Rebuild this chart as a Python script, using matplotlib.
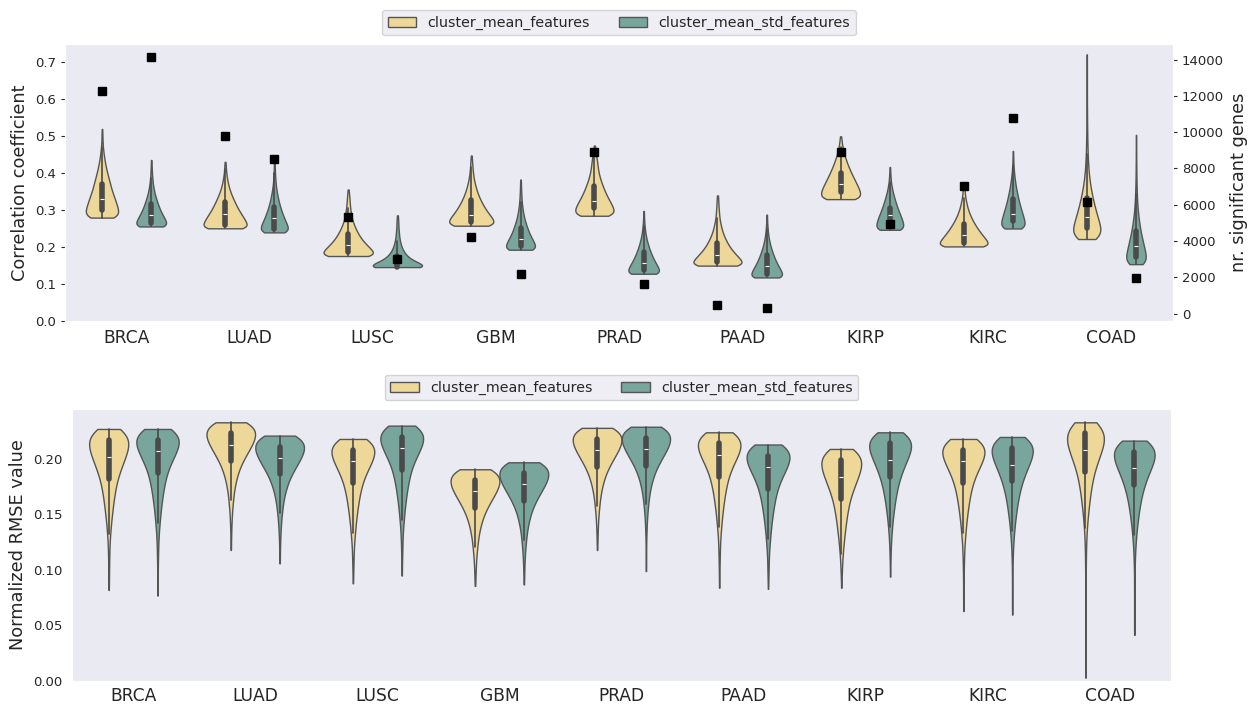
import numpy as np
import pandas as pd
import matplotlib
matplotlib.use("Agg")
import matplotlib.pyplot as plt
import seaborn as sns

# ---------------- data ----------------
cancers = ["BRCA", "LUAD", "LUSC", "GBM", "PRAD", "PAAD", "KIRP", "KIRC", "COAD"]
features = ["cluster_mean_features", "cluster_mean_std_features"]
colors = ["#EDD89A", "#78A69C"]

# Correlation coefficients: histogram counts in 0.01 bins going up from each minimum
corr_step = 0.01
corr_mean_min = [0.280, 0.251, 0.176, 0.258, 0.285, 0.150, 0.330, 0.202, 0.222]
corr_mean_counts = [
    [95, 100, 100, 92, 85, 78, 70, 62, 55, 50, 44, 38, 32, 27, 22, 18, 14, 11, 8, 6, 4, 3, 3, 2, 2],
    [100, 95, 88, 78, 68, 58, 50, 42, 35, 28, 22, 17, 13, 10, 7, 5, 4, 3, 2],
    [100, 92, 80, 66, 54, 44, 36, 29, 23, 18, 14, 11, 9, 7, 6, 5, 4, 3, 2],
    [98, 100, 90, 78, 66, 56, 47, 39, 32, 26, 21, 17, 13, 10, 8, 6, 5, 4, 3, 2],
    [92, 100, 95, 86, 76, 66, 57, 49, 42, 35, 29, 24, 20, 17, 15, 13, 10, 7, 5, 3],
    [100, 92, 80, 67, 55, 45, 37, 30, 24, 19, 15, 12, 9, 7, 6, 5, 4, 3, 3, 2],
    [90, 100, 97, 90, 81, 72, 63, 54, 46, 38, 31, 25, 19, 14, 10, 7, 5, 3],
    [100, 95, 85, 73, 62, 52, 43, 35, 28, 22, 17, 13, 10, 7, 5, 4, 3],
    [80, 95, 95, 90, 84, 77, 70, 63, 56, 50, 44, 39, 34, 29, 25, 21, 18, 15, 13, 11, 9, 8, 7, 6, 5,
     5, 4, 4, 3, 3, 3, 2, 2, 2, 2, 2, 1, 1, 1, 1, 1, 1, 1, 1, 1, 1, 1, 1, 1, 1, 1],
]
corr_std_min = [0.256, 0.240, 0.146, 0.193, 0.128, 0.118, 0.247, 0.2505, 0.154]
corr_std_counts = [
    [100, 95, 85, 72, 60, 50, 42, 34, 27, 21, 16, 12, 9, 7, 5, 4, 3, 2, 2],
    [95, 100, 90, 78, 67, 57, 48, 40, 33, 27, 22, 17, 13, 10, 8, 6, 5, 4, 3, 3, 2],
    [100, 70, 45, 30, 21, 15, 11, 8, 6, 5, 4, 3, 3, 2, 2],
    [100, 95, 85, 72, 60, 50, 42, 34, 27, 21, 17, 13, 10, 8, 6, 5, 4, 3, 3, 2],
    [100, 95, 85, 72, 60, 50, 41, 33, 26, 20, 15, 11, 8, 6, 4, 3, 2, 2],
    [100, 95, 85, 72, 60, 50, 41, 33, 26, 20, 15, 11, 8, 6, 4, 3, 2, 2],
    [92, 100, 95, 86, 76, 65, 55, 46, 38, 30, 23, 17, 12, 8, 6, 4, 3, 2],
    [90, 100, 95, 87, 78, 69, 60, 52, 45, 38, 32, 26, 21, 17, 13, 10, 7, 5, 4, 3, 2, 2],
    [88, 100, 97, 90, 82, 74, 66, 58, 50, 43, 37, 32, 27, 23, 19, 16, 13, 11, 9, 8, 7, 6, 5, 4, 4,
     3, 3, 3, 2, 2, 2, 2, 2, 1, 1, 1],
]

# number of significant genes (right axis)
genes_mean = [12250, 9770, 5300, 4240, 8930, 460, 8930, 7010, 6130]
genes_std = [14170, 8520, 3010, 2200, 1630, 280, 4940, 10800, 1980]

# Normalized RMSE: histogram counts in 0.005 bins going down from each maximum
rmse_step = 0.005
rmse_mean_max = [0.227, 0.233, 0.218, 0.1907, 0.228, 0.224, 0.209, 0.218, 0.233]
rmse_mean_counts = [
    [70, 90, 100, 97, 90, 80, 70, 60, 50, 42, 36, 31, 27, 23, 20, 17, 14, 11, 9, 7, 5, 4, 3, 3, 2, 2, 2, 1, 1, 1],
    [78, 96, 100, 95, 84, 72, 59, 47, 37, 29, 23, 18, 14, 11, 9, 7, 5, 4, 3, 2, 2, 1, 1, 1],
    [78, 96, 100, 95, 84, 72, 60, 49, 41, 35, 30, 26, 22, 19, 16, 13, 11, 9, 7, 5, 4, 3, 3, 2, 2, 1, 1],
    [78, 96, 100, 95, 84, 72, 59, 47, 37, 29, 23, 18, 14, 11, 9, 7, 5, 4, 3, 2, 2, 1],
    [78, 96, 100, 95, 84, 72, 59, 47, 37, 29, 23, 18, 14, 11, 9, 7, 5, 4, 3, 2, 2, 1, 1],
    [78, 96, 100, 95, 84, 72, 60, 49, 41, 35, 30, 26, 22, 19, 16, 13, 11, 9, 7, 5, 4, 3, 3, 2, 2, 1, 1, 1, 1],
    [70, 90, 100, 97, 90, 80, 70, 60, 50, 42, 36, 31, 27, 23, 20, 17, 14, 11, 9, 7, 5, 4, 3, 2, 1, 1],
    [78, 96, 100, 95, 84, 72, 60, 49, 41, 35, 30, 26, 22, 19, 16, 13, 11, 9, 7, 5, 4, 3, 3, 2, 2,
     1, 1, 1, 1, 1, 1, 1],
    [70, 90, 100, 97, 90, 80, 70, 60, 50, 42, 36, 31, 27, 23, 20, 17, 14, 11, 9, 7, 5, 4, 3, 3, 2, 2, 2,
     1, 1, 1, 1, 1, 1, 1, 1, 1, 1, 1, 1, 1, 1, 1, 1, 1, 1, 1, 1],
]
rmse_std_max = [0.227, 0.221, 0.230, 0.197, 0.229, 0.213, 0.224, 0.2198, 0.2165]
rmse_std_counts = [
    [78, 96, 100, 95, 84, 72, 60, 49, 41, 35, 30, 26, 22, 19, 16, 13, 11, 9, 7, 5, 4, 3, 3, 2, 2,
     1, 1, 1, 1, 1, 1],
    [78, 96, 100, 95, 84, 72, 59, 47, 37, 29, 23, 18, 14, 11, 9, 7, 5, 4, 3, 2, 2, 1, 1, 1],
    [78, 96, 100, 95, 84, 72, 60, 49, 41, 35, 30, 26, 22, 19, 16, 13, 11, 9, 7, 5, 4, 3, 3, 2, 2, 1, 1, 1],
    [78, 96, 100, 95, 84, 72, 59, 47, 37, 29, 23, 18, 14, 11, 9, 7, 5, 4, 3, 2, 2, 1, 1],
    [78, 96, 100, 95, 84, 72, 59, 47, 37, 29, 23, 18, 14, 11, 9, 7, 5, 4, 3, 2, 2, 1, 1, 1, 1, 1, 1],
    [78, 96, 100, 95, 84, 72, 60, 49, 41, 35, 30, 26, 22, 19, 16, 13, 11, 9, 7, 5, 4, 3, 3, 2, 2, 1, 1],
    [74, 93, 100, 96, 87, 76, 65, 55, 46, 39, 33, 28, 24, 20, 17, 14, 11, 9, 7, 5, 4, 3, 2, 2, 1, 1, 1],
    [74, 93, 100, 96, 87, 76, 65, 55, 46, 39, 33, 28, 24, 20, 17, 14, 11, 9, 7, 5, 4, 3, 2, 2, 1, 1, 1,
     1, 1, 1, 1, 1, 1],
    [74, 93, 100, 96, 87, 76, 65, 55, 46, 39, 33, 28, 24, 20, 17, 14, 11, 9, 7, 5, 4, 3, 2, 2, 1, 1, 1,
     1, 1, 1, 1, 1, 1, 1, 1, 1],
]


def long_frame(anchors, counts_list, step, direction, feature):
    rows = []
    for cancer, anchor, counts in zip(cancers, anchors, counts_list):
        vals = anchor + direction * step * np.arange(len(counts))
        rows.append(pd.DataFrame({"cancer": cancer, "feature": feature,
                                  "value": np.repeat(vals, counts)}))
    return pd.concat(rows, ignore_index=True)


df_corr = pd.concat([
    long_frame(corr_mean_min, corr_mean_counts, corr_step, +1, features[0]),
    long_frame(corr_std_min, corr_std_counts, corr_step, +1, features[1]),
], ignore_index=True)
df_rmse = pd.concat([
    long_frame(rmse_mean_max, rmse_mean_counts, rmse_step, -1, features[0]),
    long_frame(rmse_std_max, rmse_std_counts, rmse_step, -1, features[1]),
], ignore_index=True)

# ---------------- style ----------------
sns.set_style("dark")
plt.rcParams["font.family"] = ["DejaVu Sans"]

fig = plt.figure(figsize=(12.51, 7.06), dpi=100)
ax1 = fig.add_axes([0.052, 0.5453, 0.8856, 0.3924])
ax3 = fig.add_axes([0.0576, 0.0354, 0.8784, 0.3853])

vkw = dict(x="cancer", y="value", hue="feature", order=cancers, hue_order=features,
           palette=colors, saturation=1, cut=0, density_norm="area", inner="box",
           linewidth=1, linecolor="#555555",
           inner_kws=dict(box_width=4, whis_width=1.2, color="#4a4a4a"))

sns.violinplot(data=df_corr, ax=ax1, bw_adjust=0.8, **vkw)
sns.violinplot(data=df_rmse, ax=ax3, **vkw)

# top panel
ax1.set_ylim(0, 0.75)
ax1.set_xlabel("")
ax1.set_ylabel("Correlation coefficient", fontsize=12.8, color=".15")
ax1.tick_params(axis="x", labelsize=12.3, colors=".15", pad=2)
ax1.tick_params(axis="y", left=True, length=3, labelsize=9.5, colors=".15")

ax2 = ax1.twinx()
pos = np.arange(len(cancers))
ax2.plot(pos - 0.2, genes_mean, "s", color="black", ms=5.8, linestyle="none")
ax2.plot(pos + 0.2, genes_std, "s", color="black", ms=5.8, linestyle="none")
ax2.set_ylabel("nr. significant genes", fontsize=12.8, color=".15")
ax2.tick_params(axis="y", right=True, length=3, labelsize=9.5, colors=".15")
ax2.grid(False)
ax1.set_xlim(-0.5, len(cancers) - 0.5)

handles, labels = ax1.get_legend_handles_labels()
ax1.legend(handles, labels, loc="lower center", bbox_to_anchor=(0.5, 1.0), ncol=2,
           fontsize=10.25, frameon=True, borderaxespad=0.6, columnspacing=2.0)

# bottom panel
ax3.set_ylim(0, 0.245)
ax3.set_xlim(-0.5, len(cancers) - 0.5)
ax3.set_xlabel("")
ax3.set_ylabel("Normalized RMSE value", fontsize=12.8, color=".15")
ax3.set_yticks([0.0, 0.05, 0.10, 0.15, 0.20])
ax3.set_yticklabels(["0.00", "0.05", "0.10", "0.15", "0.20"])
ax3.tick_params(axis="x", labelsize=12.3, colors=".15", pad=1)
ax3.tick_params(axis="y", labelsize=9.5, colors=".15")
handles, labels = ax3.get_legend_handles_labels()
ax3.legend(handles, labels, loc="lower center", bbox_to_anchor=(0.5, 1.0), ncol=2,
           fontsize=10.25, frameon=True, borderaxespad=0.6, columnspacing=2.0)

fig.savefig("out.png", dpi=100)
